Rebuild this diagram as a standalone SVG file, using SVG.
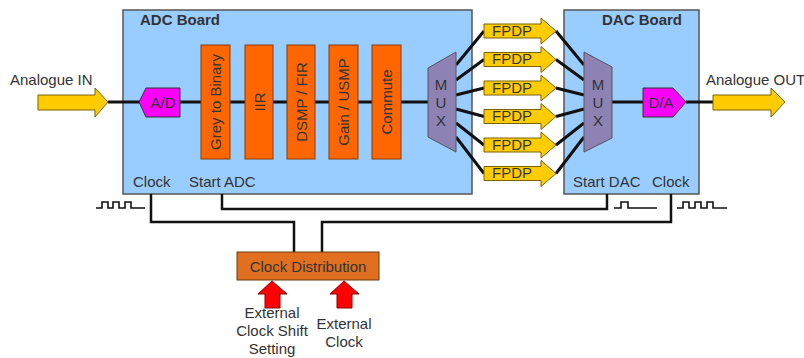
<svg xmlns="http://www.w3.org/2000/svg" width="804" height="358" viewBox="0 0 804 358">
<style>
text{font-family:"Liberation Sans",Arial,sans-serif;fill:#333;font-size:15px}
.b{font-weight:bold}
.board{fill:#99CCFF;stroke:#555;stroke-width:1.5}
.blk{fill:#FF6600;stroke:#8a3a00;stroke-width:1}
.mux{fill:#8E82B4;stroke:#555;stroke-width:1}
.conv{fill:#FF00FF;stroke:#333;stroke-width:1}
.ya{fill:#FFCC00;stroke:#7a6200;stroke-width:1}
.ra{fill:#FF0000;stroke:#8b0000;stroke-width:1}
.w{fill:none;stroke:#111;stroke-width:3}
.s{fill:none;stroke:#111;stroke-width:2.5}
.wave{fill:none;stroke:#111;stroke-width:1.6}
.c{text-anchor:middle}
</style>
<g id="adc-board"><rect class="board" x="123" y="10" width="349" height="184"/><text class="b c" x="180" y="25">ADC Board</text><text x="133" y="187">Clock</text><text x="189" y="187">Start ADC</text></g>
<g id="dac-board"><rect class="board" x="564" y="10" width="135" height="184"/><text class="b c" x="642" y="25">DAC Board</text><text x="573" y="187">Start DAC</text><text x="652" y="187">Clock</text></g>
<g id="connectors">
<path class="w" d="M108 102H428"/>
<path class="w" d="M612 102H643M686 102H713"/>
<path class="w" d="M456 65L484 31M456 80L484 59.5M456 95L484 88M456 109L484 116.5M456 123L484 145M456 137L484 173.5"/>
<path class="w" d="M556 31L584 65M556 59.5L584 80M556 88L584 95M556 116.5L584 109M556 145L584 123M556 173.5L584 137"/>
<path class="s" d="M151 194V222H294V252"/>
<path class="s" d="M222 194V209H607V194"/>
<path class="s" d="M322 252V222H671V194"/>
<path class="wave" d="M96 208H102V202H108V208H113V202H119V208H125V202H131V208H145"/>
<path class="wave" d="M614 208H621V202H628V208H657"/>
<path class="wave" d="M677 208H683V202H689V208H695V202H701V208H707V202H713V208H727"/>
</g>
<g id="analogue-in"><text x="10" y="85">Analogue IN</text><path class="ya" d="M38 95H95V88L108 102L95 117V110H38Z"/></g>
<g id="ad"><path class="conv" d="M139 102L146 88H180V117H146Z"/><text class="c" x="163" y="108">A/D</text></g>
<g id="grey"><rect class="blk" x="201" y="45" width="29" height="114"/><text class="c" transform="translate(221 102) rotate(-90)">Grey to Binary</text></g>
<g id="iir"><rect class="blk" x="245" y="45" width="28" height="114"/><text class="c" transform="translate(264.5 102) rotate(-90)">IIR</text></g>
<g id="dsmp"><rect class="blk" x="287" y="45" width="28" height="114"/><text class="c" transform="translate(306.5 102) rotate(-90)">DSMP / FIR</text></g>
<g id="gain"><rect class="blk" x="329" y="45" width="29" height="114"/><text class="c" transform="translate(349 102) rotate(-90)">Gain / USMP</text></g>
<g id="commute"><rect class="blk" x="372" y="45" width="29" height="114"/><text class="c" transform="translate(392 102) rotate(-90)">Commute</text></g>
<g id="mux-adc"><path class="mux" d="M428 68L456 52V152L428 137Z"/><text class="c" x="441" y="90">M</text><text class="c" x="441" y="108">U</text><text class="c" x="441" y="126">X</text></g>
<g id="fpdp">
<path class="ya" d="M484 24H541V18L556 31L541 44V38H484Z"/><text class="c" x="512" y="35.5" font-size="12">FPDP</text>
<path class="ya" d="M484 52.5H541V46.5L556 59.5L541 72.5V66.5H484Z"/><text class="c" x="512" y="64" font-size="12">FPDP</text>
<path class="ya" d="M484 81H541V75L556 88L541 101V95H484Z"/><text class="c" x="512" y="92.5" font-size="12">FPDP</text>
<path class="ya" d="M484 109.5H541V103.5L556 116.5L541 129.5V123.5H484Z"/><text class="c" x="512" y="121" font-size="12">FPDP</text>
<path class="ya" d="M484 138H541V132L556 145L541 158V152H484Z"/><text class="c" x="512" y="149.5" font-size="12">FPDP</text>
<path class="ya" d="M484 166.5H541V160.5L556 173.5L541 186.5V180.5H484Z"/><text class="c" x="512" y="178" font-size="12">FPDP</text>
</g>
<g id="mux-dac"><path class="mux" d="M584 52L612 67V138L584 152Z"/><text class="c" x="598" y="90">M</text><text class="c" x="598" y="108">U</text><text class="c" x="598" y="126">X</text></g>
<g id="da"><path class="conv" d="M643 88H673L686 102L673 117H643Z"/><text class="c" x="661" y="108">D/A</text></g>
<g id="analogue-out"><text x="706" y="85">Analogue OUT</text><path class="ya" d="M713 95H771V88L785 102L771 117V110H713Z"/></g>
<g id="clock-dist"><rect x="237" y="252" width="142" height="28" fill="#E07020" stroke="#6b3a10" stroke-width="1"/><text class="c" x="308" y="272" font-size="14.5">Clock Distribution</text></g>
<g id="ext-shift"><path class="ra" d="M272 281L287 294H280V308H265V294H258Z"/><text class="c" x="272" y="318">External</text><text class="c" x="272" y="336">Clock Shift</text><text class="c" x="272" y="354">Setting</text></g>
<g id="ext-clock"><path class="ra" d="M344 281L359 294H352V308H337V294H330Z"/><text class="c" x="344" y="329">External</text><text class="c" x="344" y="347">Clock</text></g>
</svg>
